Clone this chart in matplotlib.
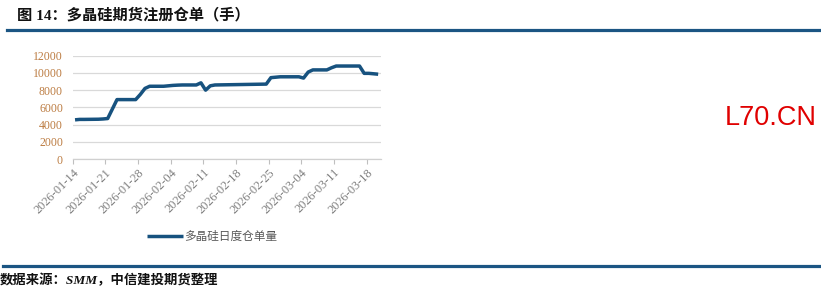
import matplotlib
matplotlib.use("Agg")
import matplotlib.pyplot as plt
import matplotlib.dates as mdates
import pandas as pd
import numpy as np

# ---- data ----
dates = ["2026-01-14", "2026-01-15", "2026-01-16", "2026-01-19", "2026-01-20",
         "2026-01-21", "2026-01-22", "2026-01-23", "2026-01-26", "2026-01-27",
         "2026-01-28", "2026-01-29", "2026-01-30", "2026-02-02", "2026-02-03",
         "2026-02-04", "2026-02-05", "2026-02-06", "2026-02-09", "2026-02-10",
         "2026-02-11", "2026-02-12", "2026-02-13", "2026-02-24", "2026-02-25",
         "2026-02-26", "2026-02-27", "2026-03-02", "2026-03-03", "2026-03-04",
         "2026-03-05", "2026-03-06", "2026-03-09", "2026-03-10", "2026-03-11",
         "2026-03-12", "2026-03-13", "2026-03-16", "2026-03-17", "2026-03-18",
         "2026-03-19", "2026-03-20"]
values = [4550, 4600, 4600, 4620, 4650,
          4700, 5800, 6900, 6900, 6900,
          7500, 8200, 8450, 8450, 8500,
          8550, 8580, 8600, 8600, 8850,
          8000, 8500, 8600, 8700, 9450,
          9500, 9550, 9550, 9550, 9400,
          10100, 10350, 10350, 10600, 10800,
          10800, 10800, 10800, 9950, 9950,
          9900, 9850]
tick_dates = ["2026-01-14", "2026-01-21", "2026-01-28", "2026-02-04", "2026-02-11",
              "2026-02-18", "2026-02-25", "2026-03-04", "2026-03-11", "2026-03-18"]
y_ticks = [0, 2000, 4000, 6000, 8000, 10000, 12000]
series_name = "多晶硅日度仓单量"
title = "图 14：多晶硅期货注册仓单（手）"
source = "数据来源：SMM，中信建投期货整理"
watermark = "L70.CN"

W, H = 821, 295
fig = plt.figure(figsize=(W / 100, H / 100), dpi=100)

line_blue = "#1B5583"
data_blue = "#17527F"
cjk = ["Liberation Serif", "Noto Sans CJK SC"]

# axes
ax_l, ax_r, ax_t, ax_b = 72.7, 380.5, 55.7, 159.0
ax = fig.add_axes([ax_l / W, 1 - ax_b / H, (ax_r - ax_l) / W, (ax_b - ax_t) / H])

x = mdates.date2num(pd.to_datetime(dates)) + 0.5
ax.plot(x, values, color=data_blue, lw=2.5, solid_joinstyle="round",
        solid_capstyle="butt", label=series_name)

x0 = mdates.date2num(pd.Timestamp("2026-01-14"))
x1 = mdates.date2num(pd.Timestamp("2026-03-21"))
ax.set_xlim(x0, x1)
ax.set_ylim(0, 12000)
ax.set_yticks(y_ticks)
ax.set_yticklabels([str(v) for v in y_ticks], fontsize=8.5,
                   family="Liberation Serif", color="#BC7C42")
ax.tick_params(axis="y", length=0, pad=7)
ax.grid(axis="y", color="#D9D9D9", lw=0.9)
ax.set_axisbelow(True)

tx = mdates.date2num(pd.to_datetime(tick_dates))
ax.set_xticks(tx)
ax.set_xticklabels(tick_dates, rotation=45, ha="right", va="top",
                   rotation_mode="anchor", fontsize=8.9,
                   family="Liberation Serif", color="#7F7F7F")
ax.tick_params(axis="x", length=3.5, width=0.8, color="#BFBFBF", pad=2)
for s in ["top", "right", "left"]:
    ax.spines[s].set_visible(False)
ax.spines["bottom"].set_color("#D0D0D0")
ax.spines["bottom"].set_linewidth(0.9)

# legend
leg = ax.legend(loc="center left", bbox_to_anchor=(147 / W, 1 - 236.5 / H),
                bbox_transform=fig.transFigure, frameon=False, borderpad=0,
                borderaxespad=0, handlelength=3.1, handletextpad=0.1,
                prop={"family": ["Noto Sans CJK SC"], "size": 8.4})
for t in leg.get_texts():
    t.set_color("#595959")

# title and rules
fig.text(17 / W, 1 - 15.5 / H, title, fontsize=11, fontweight="bold",
         family=cjk, ha="left", va="center", color="#111111")
fig.add_artist(plt.Line2D([7 / W, 820 / W], [1 - 29.5 / H, 1 - 29.5 / H],
                          transform=fig.transFigure, color=line_blue, lw=2.3))
fig.add_artist(plt.Line2D([3 / W, 820 / W], [1 - 265.5 / H, 1 - 265.5 / H],
                          transform=fig.transFigure, color=line_blue, lw=2.3))
fig.text(0 / W, 1 - 280 / H, source, fontsize=9.6, style="italic",
         fontweight="bold", family=cjk, ha="left", va="center", color="#111111")

# watermark
fig.text(817 / W, 1 - 117.5 / H, watermark, fontsize=19.5,
         family="Liberation Sans", color="#E00000", ha="right", va="center")

fig.savefig("out.png", dpi=100)
